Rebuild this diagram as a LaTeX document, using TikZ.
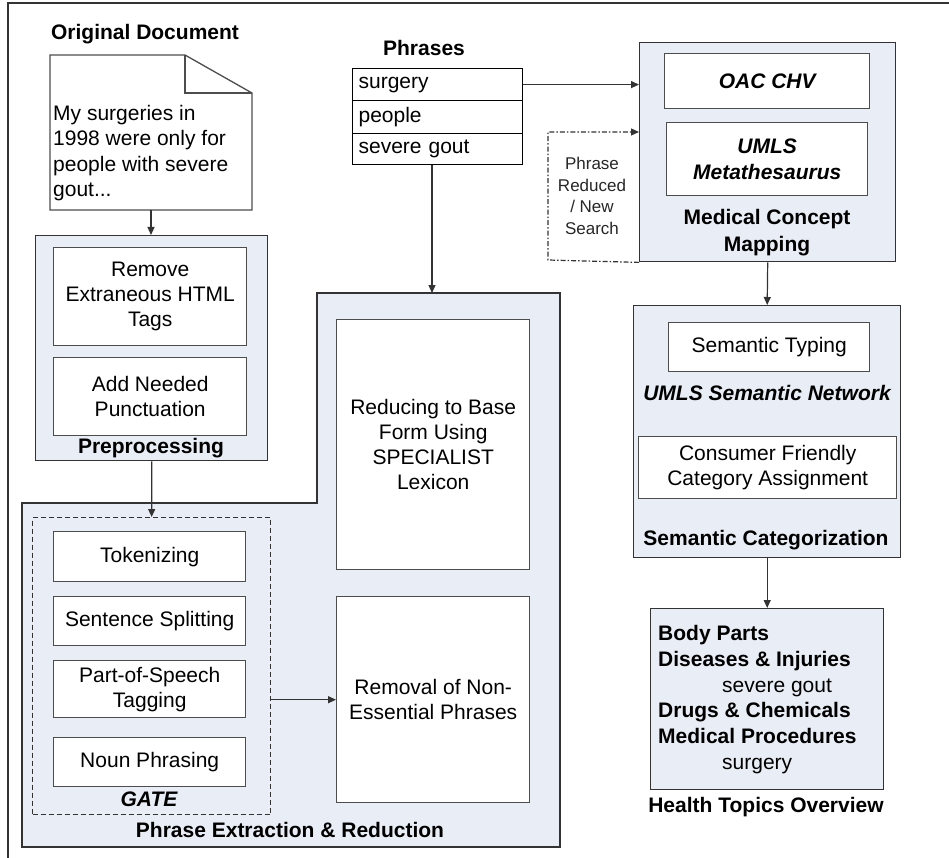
\documentclass[tikz,border=0pt]{standalone}
\usepackage{fontspec}
\setmainfont{Liberation Sans}
\usetikzlibrary{arrows.meta}
\definecolor{grpfill}{HTML}{E9EEF6}
\definecolor{edge}{HTML}{333333}
\definecolor{iedge}{HTML}{4D4D4D}
\tikzset{
  every node/.style={font=\fontsize{21}{25}\selectfont, inner sep=0pt},
  grp/.style={draw=edge, line width=1.4pt, fill=grpfill, anchor=north west},
  ibox/.style={draw=iedge, line width=1.4pt, fill=white, anchor=north west, align=center},
  cell/.style={draw=black, line width=1.2pt, fill=white, anchor=north west, inner xsep=6pt, text width=158pt, align=left},
  lbl/.style={font=\fontsize{21}{25}\selectfont\bfseries, anchor=base},
  bilbl/.style={font=\fontsize{21}{25}\selectfont\bfseries\itshape, anchor=base},
  arr/.style={-{Triangle[length=8pt,width=7pt]}, line width=1.2pt, draw=edge},
  dashdotline/.style={dash pattern=on 5pt off 2pt on 1.5pt off 2pt},
}
\begin{document}
\begin{tikzpicture}[x=1pt,y=-1pt]
\useasboundingbox (0,0) rectangle (949,858);
% outer frame
\draw[line width=2pt, draw=edge] (8,858) -- (8,3) -- (949,3);

% ---------- Original document ----------
\node[lbl] (tOD) at (145,40) {Original Document};
\draw[draw=iedge, line width=1.3pt, fill=white] (50,55) -- (185,55) -- (252,93) -- (252,210) -- (50,210) -- cycle;
\draw[draw=iedge, line width=1.3pt] (185,55) -- (185,93) -- (252,93);
\coordinate (docb) at (151,210);
\node[anchor=north west, align=left, font=\fontsize{21}{25.3}\selectfont] (doctext) at (53,105)
  {My surgeries in\\1998 were only for\\people with severe\\gout...};

% ---------- Preprocessing ----------
\node[grp, minimum width=232pt, minimum height=225pt] (pre) at (35,235) {};
\node[ibox, minimum width=193pt, minimum height=98pt] (rm) at (53,247) {Remove\\Extraneous HTML\\Tags};
\node[ibox, minimum width=193pt, minimum height=78pt] (add) at (53,357) {Add Needed\\Punctuation};
\node[lbl] (tPre) at (151,453) {Preprocessing};
\draw[arr] (docb) -- (docb |- pre.north);

% ---------- Phrase extraction & reduction ----------
\draw[draw=edge, line width=1.4pt, fill=grpfill] (22,503) -- (317,503) -- (317,293) -- (560,293) -- (560,847) -- (22,847) -- cycle;
\coordinate (pertop) at (432,293);
\node[anchor=north west, draw=edge, line width=1.3pt, dash pattern=on 5pt off 3pt, minimum width=238pt, minimum height=297pt] (gate) at (32,517) {};
\node[ibox, minimum width=192pt, minimum height=50pt] (tok) at (53,531) {Tokenizing};
\node[ibox, minimum width=192pt, minimum height=49pt] (sen) at (53,596) {Sentence Splitting};
\node[ibox, minimum width=192pt, minimum height=57pt] (pos) at (53,660) {Part-of-Speech\\Tagging};
\node[ibox, minimum width=192pt, minimum height=49pt] (noun) at (53,737) {Noun Phrasing};
\node[bilbl] (tGate) at (149,806) {GATE};
\node[ibox, minimum width=193pt, minimum height=250pt] (red) at (336,319) {Reducing to Base\\Form Using\\SPECIALIST\\Lexicon};
\node[ibox, minimum width=193pt, minimum height=206pt] (rmv) at (336,596) {Removal of Non-\\Essential Phrases};
\node[lbl] (tPER) at (290,837) {Phrase Extraction \& Reduction};
\draw[arr] (pre.south) -- (gate.north);
\draw[arr] (rmv.west -| gate.east) -- (rmv.west);

% ---------- Phrases table ----------
\node[lbl] (tPh) at (424,56) {Phrases};
\node[cell, minimum height=32pt] (r1) at (352,68) {surgery};
\node[cell, minimum height=33pt] (r2) at (352,100) {people};
\node[cell, minimum height=31pt] (r3) at (352,133) {severe gout};
\draw[arr] (pertop |- r3.south) -- (pertop);

% ---------- Medical concept mapping ----------
\node[grp, minimum width=256pt, minimum height=219pt] (med) at (639,42) {};
\node[ibox, minimum width=205pt, minimum height=55pt, font=\fontsize{21}{25}\selectfont\bfseries\itshape] (oac) at (664,53) {OAC CHV};
\node[ibox, minimum width=201pt, minimum height=73pt, font=\fontsize{21}{26}\selectfont\bfseries\itshape] (umls) at (666,122) {UMLS\\Metathesaurus};
\node[anchor=north, align=center, font=\fontsize{21}{27}\selectfont\bfseries] (tMed) at (767,209) {Medical Concept\\Mapping};
\draw[arr] (r1.east) -- (r1.east -| med.west);

% phrase reduced / new search
\coordinate (pr1) at (548,260);
\coordinate (pr2) at (548,132);
\draw[arr, dashdotline] (med.south west) -- (pr1) -- (pr2) -- (pr2 -| med.west);
\node[align=center, font=\fontsize{17}{21.5}\selectfont, text=black!85] (prt) at (592,196) {Phrase\\Reduced\\/ New\\Search};

% ---------- Semantic categorization ----------
\node[grp, minimum width=267pt, minimum height=252pt] (sem) at (633,305) {};
\node[ibox, minimum width=201pt, minimum height=49pt] (styp) at (668,322) {Semantic Typing};
\node[bilbl] (tUSN) at (767,400) {UMLS Semantic Network};
\node[ibox, minimum width=258pt, minimum height=62pt] (cons) at (638,436) {Consumer Friendly\\Category Assignment};
\node[lbl] (tSC) at (766,545) {Semantic Categorization};
\draw[arr] (med.south) -- (sem.north);

% ---------- Health topics ----------
\node[grp, minimum width=233pt, minimum height=181pt] (hto) at (650,608) {};
\node[anchor=north west, align=left, font=\fontsize{21}{25.8}\selectfont] (ht) at (658,625)
  {\textbf{Body Parts}\\\textbf{Diseases \& Injuries}\\\hspace*{64pt}severe gout\\\textbf{Drugs \& Chemicals}\\\textbf{Medical Procedures}\\\hspace*{64pt}surgery};
\node[lbl] (tHTO) at (766,812) {Health Topics Overview};
\draw[arr] (sem.south) -- (hto.north);
\end{tikzpicture}
\end{document}
